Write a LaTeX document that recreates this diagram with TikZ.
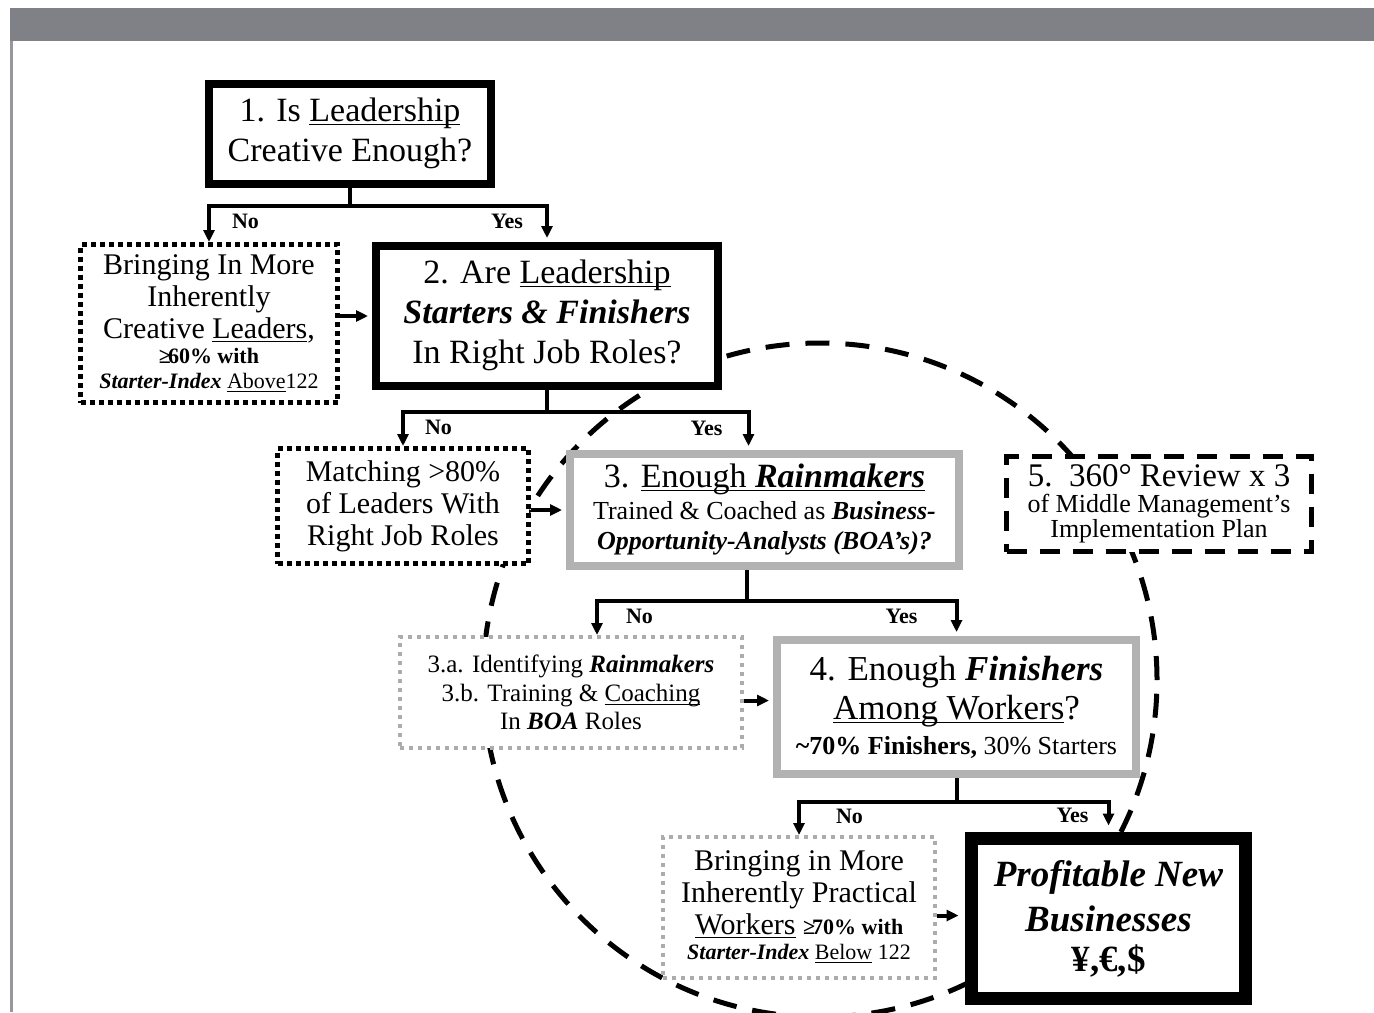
\documentclass[tikz,border=0pt]{standalone}
\usepackage{fontspec}
\setmainfont{Liberation Serif}
\usetikzlibrary{arrows.meta}
\setlength{\parindent}{0pt}

\definecolor{barcol}{RGB}{128,129,134}
\definecolor{edgecol}{RGB}{150,150,155}
\newcommand{\fsA}{\fontsize{17}{20}\selectfont}
\newcommand{\fsB}{\fontsize{15}{16}\selectfont}
\newcommand{\fsC}{\fontsize{13}{15}\selectfont}
\newcommand{\fsD}{\fontsize{11}{12.5}\selectfont}
\newcommand{\fsL}{\fontsize{11}{13}\selectfont\bfseries}
\newcommand{\bi}[1]{\textbf{\textit{#1}}}
\newcommand{\undl}[1]{\underline{\smash{#1}}}

\begin{document}
\begin{tikzpicture}[x=0.5pt,y=-0.5pt,
  every node/.style={align=flush center,inner sep=0pt},
  boldbox/.style={draw,line width=4pt,fill=white},
  greybox/.style={draw=gray!60,line width=4pt,fill=white},
  dotbox/.style={draw,line width=2.5pt,dash pattern=on 2.5pt off 2pt,fill=white},
  starbox/.style={draw=gray!65,line width=2pt,dash pattern=on 2pt off 2.5pt,fill=white},
  dashbox/.style={draw,line width=2.5pt,dash pattern=on 10pt off 6.5pt,fill=white},
  ring/.style={line width=2.5pt,dash pattern=on 12pt off 8pt},
  stem/.style={line width=2pt},
  arr/.style={line width=2pt,-{Triangle[length=6pt,width=5.5pt]}},
  lbl/.style={font=\fsL}]
\useasboundingbox (0,0) rectangle (1374,1012);

\fill[barcol] (10,8) rectangle (1374,41);
\fill[edgecol] (10,41) rectangle (12.5,1012);

\draw[ring] (820,680) circle [radius=168.5pt];

\node[boldbox,minimum width=141pt,minimum height=50pt,text width=135pt,font=\fsA] (leaders) at (350,134)
  {1. Is \undl{Leadership}\\ Creative Enough?};
\node[dotbox,minimum width=128.5pt,minimum height=79pt,text width=122pt,font=\fsB] (creative) at (209,323.5)
  {Bringing In More\\ Inherently\\ Creative \undl{Leaders},\par
   {\fsD{\bfseries ≥\kern-1.5pt60\% with}\\ \bi{Starter-Index} \undl{Above}122\par}};
\node[boldbox,minimum width=171pt,minimum height=70pt,text width=165pt,font=\fsA] (starters) at (547,316)
  {2. Are \undl{Leadership}\\ \bi{Starters \& Finishers}\\ In Right Job Roles?};
\node[dotbox,minimum width=125.5pt,minimum height=57.5pt,text width=120pt,font=\fsB] (matching) at (403,506)
  {Matching >80\%\\ of Leaders With\\ Right Job Roles};
\node[greybox,minimum width=194.5pt,minimum height=56pt,text width=188pt,font=\fontsize{17}{20}\selectfont] (rainmakers) at (764.5,510)
  {3. \undl{Enough \bi{Rainmakers}}\par
   {\fontsize{13}{16}\selectfont Trained \& Coached as \bi{Business-}\par}
   {\fontsize{13}{15}\selectfont\bi{Opportunity-Analysts (BOA’s)?}\par}};
\node[starbox,minimum width=171pt,minimum height=55.5pt,text width=165pt,font=\fontsize{12.5}{14.3}\selectfont] (identify) at (571,692.5)
  {3.a. Identifying \bi{Rainmakers}\\ 3.b. Training \& \undl{Coaching}\\ In \bi{BOA} Roles};
\node[greybox,minimum width=179.5pt,minimum height=67pt,text width=173pt,font=\fontsize{17.5}{19.5}\selectfont] (finishers) at (956.5,707)
  {4. Enough \bi{Finishers}\\ \undl{Among Workers}?\par
   {\fontsize{13}{17.5}\selectfont\textbf{\textasciitilde70\% Finishers,} 30\% Starters\par}};
\node[starbox,minimum width=136pt,minimum height=70.5pt,text width=130pt,font=\fsB] (practical) at (799,907.5)
  {Bringing in More\\ Inherently Practical\\ \undl{Workers} {\fsD\bfseries ≥\kern-1.5pt70\% with}\par
   {\fsD \bi{Starter-Index} \undl{Below} 122\par}};
\node[boldbox,line width=6.5pt,minimum width=137pt,minimum height=80pt,text width=130pt,font=\fontsize{18.5}{22.5}\selectfont] (profit) at (1108.5,918.5)
  {\bi{Profitable New}\\ \bi{Businesses}\par
   {\fontsize{18.5}{20}\selectfont\bfseries ¥,€,\$\par}};
\node[dashbox,minimum width=152.5pt,minimum height=47.5pt,text width=146pt,font=\fontsize{16.5}{18}\selectfont] (review) at (1159,504)
  {5.\ \ 360° Review x 3\par
   {\fontsize{13}{12.8}\selectfont of Middle Management’s\\ Implementation Plan\par}};

\draw[stem] (leaders.south) -- ++(0,18) coordinate (fork1);
\draw[arr] (fork1) -| node[lbl,pos=0.72,right=10.5pt] (no1) {No} (creative.north);
\draw[arr,shorten >=2pt] (fork1) -| node[lbl,pos=0.72,left=11pt] (yes1) {Yes} (starters.north);
\draw[arr] (creative.east |- starters.west) -- ([xshift=-2pt]starters.west);

\draw[stem] (starters.south) -- ++(0,22) coordinate (fork2);
\draw[arr] (fork2) -| node[lbl,pos=0.72,right=10pt] (no2) {No} (matching.north);
\draw[arr,shorten >=2pt] (fork2) -| node[lbl,pos=0.72,left=12pt] (yes2) {Yes} ([xshift=-8pt]rainmakers.north);
\draw[arr] (matching.east |- rainmakers.west) -- ([xshift=-2pt]rainmakers.west);

\draw[stem] ([xshift=-9pt]rainmakers.south) -- ++(0,31) coordinate (fork3);
\draw[arr] (fork3) -| node[lbl,pos=0.72,right=13.5pt] (no3) {No} ([xshift=13pt]identify.north);
\draw[arr,shorten >=2pt] (fork3) -| node[lbl,pos=0.72,left=18.5pt] (yes3) {Yes} (finishers.north);
\draw[arr] ([yshift=-4pt]identify.east) -- ([yshift=-4pt,xshift=-2pt]identify.east -| finishers.west);

\draw[stem] (finishers.south) -- ++(0,24) coordinate (fork4);
\draw[arr] (fork4) -| node[lbl,pos=0.72,right=17.5pt] (no4) {No} (practical.north);
\draw[arr,shorten >=3.25pt] (fork4) -| node[lbl,pos=0.72,left=9pt] (yes4) {Yes} (profit.north);
\draw[arr] ([yshift=-4pt]practical.east) -- ([yshift=-4pt,xshift=-3.25pt]practical.east -| profit.west);
\end{tikzpicture}
\end{document}
